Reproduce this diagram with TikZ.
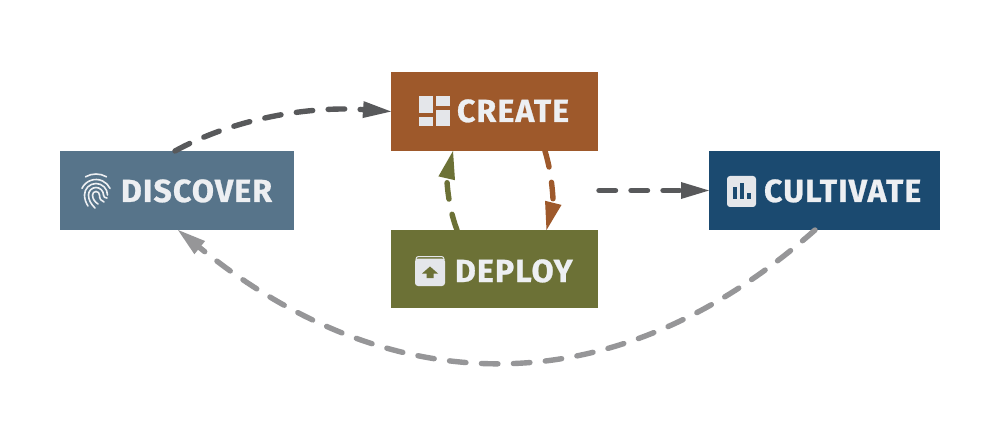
\documentclass[tikz,border=0pt]{standalone}
\usepackage{fontspec}
\setmainfont{Fira Sans}
\newfontfamily\labfont{Fira Sans}[BoldFeatures={LetterSpace=3.6,FakeBold=0.8}]
\usetikzlibrary{arrows.meta}
\definecolor{cdisc}{HTML}{57748A}
\definecolor{ccrea}{HTML}{9E592B}
\definecolor{cdepl}{HTML}{6C7136}
\definecolor{ccult}{HTML}{1B4A70}
\definecolor{ctext}{HTML}{EDEFF2}
\definecolor{cicon}{HTML}{E4E6EA}
\definecolor{cdark}{HTML}{58595B}
\definecolor{cgrey}{HTML}{969698}
\tikzset{
  x=1pt,y=-1pt,
  box/.style={rectangle,inner sep=0pt,outer sep=0pt,fill=#1},
  lab/.style={anchor=base west,inner sep=0pt,outer sep=0pt,text=ctext,font=\labfont\fontsize{32}{32}\selectfont\bfseries},
  conn/.style={line width=5.4pt,line cap=round,dash pattern=on 16.5pt off 15.5pt,draw=#1,
    -{Triangle[length=28pt,width=17pt,fill=#1,line width=0pt,sep=0pt]}},
  fing/.style={draw=ctext,line width=1.6pt,line cap=round},
}
\begin{document}
\begin{tikzpicture}
\useasboundingbox (0,0) rectangle (1000,438);
\fill[white] (0,0) rectangle (1000,438);
% boxes
\node[box=cdisc,minimum width=234pt,minimum height=79pt] (disc) at (177,190.5) {};
\node[box=ccrea,minimum width=207pt,minimum height=79pt] (crea) at (494.5,111.5) {};
\node[box=cdepl,minimum width=207pt,minimum height=78pt] (depl) at (494.5,269) {};
\node[box=ccult,minimum width=231pt,minimum height=79pt] (cult) at (824.5,190.5) {};
% labels
\node[lab] (tdisc) at (121,202) {DISCOVER};
\node[lab] (tcrea) at (457,122) {CREATE};
\node[lab] (tdepl) at (455,282) {DEPLOY};
\node[lab] (tcult) at (764,202) {CULTIVATE};
% connectors
\coordinate (cstart) at (599,190.5);
\draw[conn=cdark] ([xshift=-2pt]disc.north) .. controls (235,118) and (310,106) .. (crea.west);
\draw[conn=ccrea] ([xshift=50.5pt]crea.south) .. controls (553,177) and (553,204) .. ([xshift=52pt]depl.north);
\draw[conn=cdepl] ([xshift=-37.5pt]depl.north) .. controls (447,204) and (447,177) .. ([xshift=-41.5pt]crea.south);
\draw[conn=cdark] (cstart) -- (cult.west);
\draw[conn=cgrey] ([xshift=-9.5pt]cult.south) .. controls (603,417) and (380,394) .. ([xshift=1pt]disc.south);
% fingerprint icon
\begin{scope}[shift={(96,195)}]
\draw[fing] (240:21) arc[start angle=240,end angle=300,radius=21];
\draw[fing] (205:15.5) arc[start angle=205,end angle=335,radius=15.5];
\draw[fing] (180:11.5) arc[start angle=180,end angle=360,radius=11.5];
\draw[fing] (180:7.5) arc[start angle=180,end angle=360,radius=7.5];
\draw[fing] (180:3.5) arc[start angle=180,end angle=360,radius=3.5];
\draw[fing] (-11.5,0) .. controls (-11.5,4) and (-10,8) .. (-8,11);
\draw[fing] (-7.5,0) .. controls (-7.5,5) and (-5,9) .. (-1,13);
\draw[fing] (-3.5,0) .. controls (-3.5,4) and (-1,7) .. (2,9);
\draw[fing] (3.5,0) .. controls (3.5,4) and (5,6) .. (8,7) ;
\draw[fing] (7.5,0) .. controls (7.5,2) and (9,3) .. (11,3);
\end{scope}
% create icon
\fill[cicon] (419,96) rectangle (433,113);
\fill[cicon] (419,117) rectangle (433,126.5);
\fill[cicon] (436,96) rectangle (449.5,106);
\fill[cicon] (436,110) rectangle (449.5,126.5);
% deploy icon
\fill[cicon,rounded corners=3pt] (415,258.5) rectangle (445,286);
\draw[cicon,line width=1pt,rounded corners=2.5pt] (416,260) -- (416,256.5) -- (444,256.5) -- (444,260);
\fill[cdepl] (430,266.5) -- (438,273.5) -- (433.5,273.5) -- (433.5,278) -- (426.5,278) -- (426.5,273.5) -- (422,273.5) -- cycle;
% cultivate icon
\fill[cicon,rounded corners=3pt] (727,176) rectangle (756,207);
\fill[ccult] (733,187) rectangle (736.5,199);
\fill[ccult] (740,183) rectangle (743.5,199);
\fill[ccult] (747,193) rectangle (750.5,199);
\end{tikzpicture}
\end{document}
